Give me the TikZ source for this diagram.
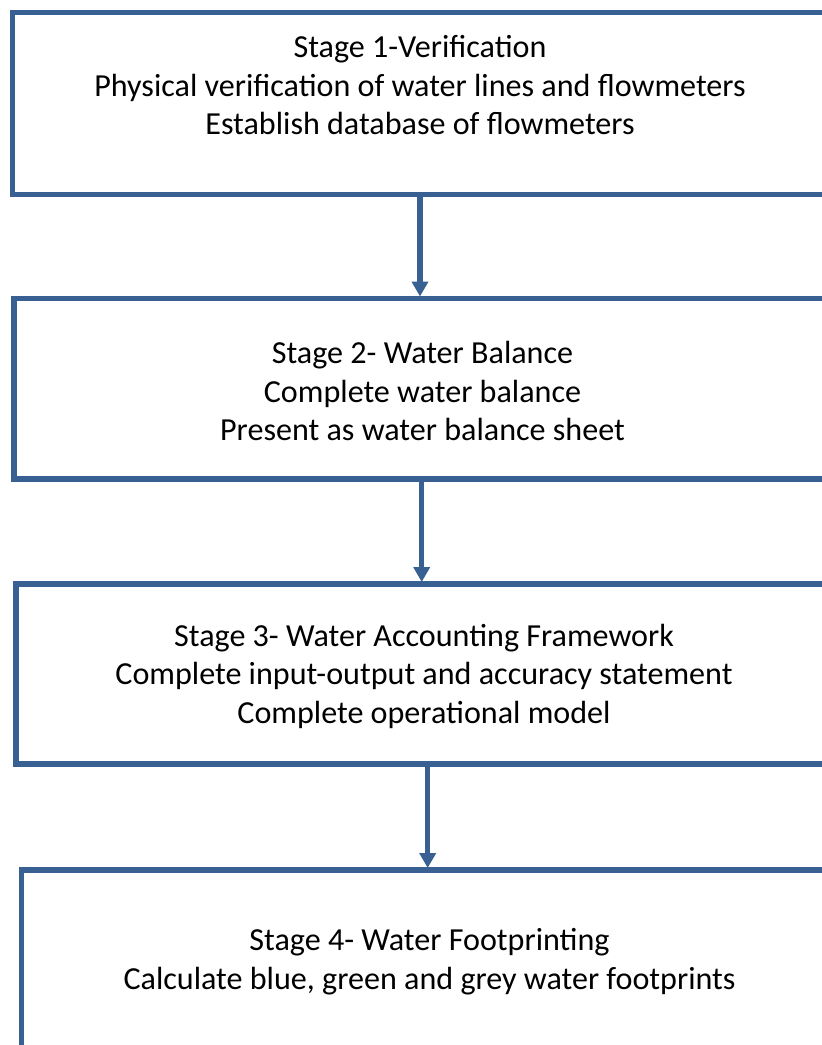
\documentclass[tikz,border=0pt]{standalone}
\usepackage{fontspec}
\setmainfont{Carlito}
\usetikzlibrary{arrows.meta,positioning}
\definecolor{frameblue}{RGB}{56,96,146}
\tikzset{
  stagebox/.style={draw=frameblue, line width=5.2pt, inner sep=0pt, outer sep=0pt, fill=white},
  stagetext/.style={align=center, inner sep=0pt, font=\fontsize{32.1}{38.5}\selectfont, text=black},
  flow/.style={draw=frameblue, line width=5.2pt, -{Triangle[width=16pt,length=15pt]}, shorten >=2pt}
}
\begin{document}
\begin{tikzpicture}[x=1pt,y=-1pt]
\useasboundingbox (0,0) rectangle (822,1045);
\fill[white] (0,0) rectangle (822,1045);
\clip (0,0) rectangle (822,1045);

% stage frames (their right and lower parts run past the page edge)
\node[stagebox, minimum width=815pt, minimum height=182pt]   (b1) at (420,103.5) {};
\node[stagebox, minimum width=817pt, minimum height=180.5pt] (b2) at (422.5,388.75) {};
\node[stagebox, minimum width=816pt, minimum height=180pt]   (b3) at (424,674) {};
\node[stagebox, minimum width=816pt, minimum height=180pt]   (b4) at (429.5,960) {};

% stage texts
\node[stagetext] (t1) at (420,85.5)
  {Stage 1-Verification\\Physical verification of water lines and flowmeters\\Establish database of flowmeters};
\node[stagetext] (t2) at (422.5,391)
  {Stage 2- Water Balance\\Complete water balance\\Present as water balance sheet};
\node[stagetext] (t3) at (424,676)
  {Stage 3- Water Accounting Framework\\Complete input-output and accuracy statement\\Complete operational model};
\node[stagetext] (t4) at (429.5,961.5)
  {Stage 4- Water Footprinting\\Calculate blue, green and grey water footprints};

% connectors
\draw[flow] (b1.south) -- (b2.north -| b1.south);
\draw[flow] ([xshift=-0.8pt]b2.south) -- ([xshift=-0.8pt]b3.north -| b2.south);
\draw[flow] ([xshift=3.7pt]b3.south) -- ([xshift=-1.8pt]b4.north);
\end{tikzpicture}
\end{document}
